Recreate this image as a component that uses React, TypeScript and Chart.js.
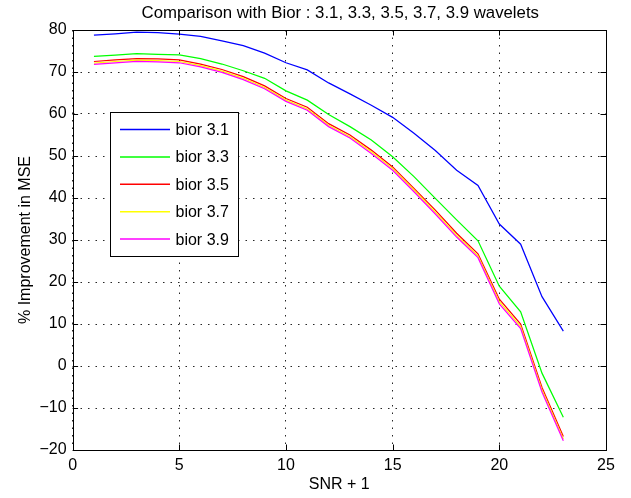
import { useEffect, useRef } from "react";
import { Chart, registerables } from "chart.js";

Chart.register(...registerables);

const chartTitle = "Comparison with Bior : 3.1, 3.3, 3.5, 3.7, 3.9 wavelets";
const xLabel = "SNR + 1";
const yLabel = "% Improvement in MSE";

const snr = [1, 2, 3, 4, 5, 6, 7, 8, 9, 10, 11, 12, 13, 14, 15, 16, 17, 18, 19, 20, 21, 22, 23];

const bior31 = [78.8, 79.1, 79.5, 79.4, 79.0, 78.5, 77.4, 76.3, 74.5, 72.2, 70.5, 67.4, 64.8, 62.1, 59.2, 55.4, 51.3, 46.6, 43.0, 33.8, 29.0, 16.5, 8.3];
const bior33 = [73.7, 74.0, 74.4, 74.2, 74.1, 73.2, 71.9, 70.3, 68.5, 65.5, 63.3, 59.9, 57.0, 53.8, 49.8, 45.1, 39.9, 34.8, 29.8, 19.0, 12.9, -1.7, -12.2];
const bior35 = [72.5, 72.9, 73.2, 73.1, 72.9, 71.9, 70.6, 68.9, 66.7, 63.7, 61.6, 57.7, 55.0, 51.4, 47.4, 42.3, 37.1, 31.6, 26.7, 15.9, 10.0, -5.1, -16.8];
const bior37 = [72.1, 72.5, 72.8, 72.7, 72.5, 71.5, 70.2, 68.5, 66.3, 63.3, 61.2, 57.3, 54.6, 51.0, 47.0, 41.9, 36.6, 31.1, 26.2, 15.3, 9.4, -5.7, -17.4];
const bior39 = [71.8, 72.2, 72.5, 72.4, 72.2, 71.2, 69.9, 68.2, 66.0, 63.0, 60.9, 57.0, 54.3, 50.6, 46.6, 41.5, 36.2, 30.7, 25.8, 14.8, 8.9, -6.2, -17.8];

const seriesLabels = ["bior 3.1", "bior 3.3", "bior 3.5", "bior 3.7", "bior 3.9"];
const seriesColors = ["#0000ff", "#00ff00", "#ff0000", "#ffff00", "#ff00ff"];
const seriesValues = [bior31, bior33, bior35, bior37, bior39];

const xTicks = [0, 5, 10, 15, 20, 25];
const yTicks = [-20, -10, 0, 10, 20, 30, 40, 50, 60, 70, 80];

const FONT = '"Liberation Sans", Arial, Helvetica, sans-serif';

const decorPlugin = {
  id: "decor",
  afterDatasetsDraw(chart: any) {
    const ctx = chart.ctx as CanvasRenderingContext2D;
    const { left, right, top, bottom } = chart.chartArea;
    const xs = chart.scales.x;
    const ys = chart.scales.y;
    ctx.save();
    // frame
    ctx.strokeStyle = "#000";
    ctx.lineWidth = 1;
    ctx.setLineDash([]);
    ctx.strokeRect(Math.round(left) + 0.5, Math.round(top) + 0.5, Math.round(right - left), Math.round(bottom - top));
    // inward ticks
    const tl = 5.5;
    ctx.beginPath();
    xTicks.forEach((v) => {
      const px = Math.round(xs.getPixelForValue(v)) + 0.5;
      ctx.moveTo(px, bottom);
      ctx.lineTo(px, bottom - tl);
      ctx.moveTo(px, top);
      ctx.lineTo(px, top + tl);
    });
    yTicks.forEach((v) => {
      const py = Math.round(ys.getPixelForValue(v)) + 0.5;
      ctx.moveTo(left, py);
      ctx.lineTo(left + tl, py);
      ctx.moveTo(right, py);
      ctx.lineTo(right - tl, py);
    });
    ctx.stroke();

    // legend
    const lx0 = 110.5, ly0 = 112.5, lw = 128, lh = 144;
    ctx.fillStyle = "#fff";
    ctx.fillRect(lx0, ly0, lw, lh);
    ctx.strokeStyle = "#000";
    ctx.lineWidth = 1;
    ctx.strokeRect(lx0, ly0, lw, lh);
    ctx.font = `16px ${FONT}`;
    ctx.textBaseline = "middle";
    ctx.textAlign = "left";
    chart.data.datasets.forEach((ds: any, i: number) => {
      const cy = 129.5 + i * 27.4;
      ctx.strokeStyle = ds.borderColor;
      ctx.lineWidth = 1.5;
      ctx.beginPath();
      ctx.moveTo(120, cy);
      ctx.lineTo(170, cy);
      ctx.stroke();
      ctx.fillStyle = "#000";
      ctx.fillText(ds.label, 175.5, cy + 1);
    });
    ctx.restore();
  },
  afterDraw(chart: any) {
    const ctx = chart.ctx as CanvasRenderingContext2D;
    const { left, right } = chart.chartArea;
    ctx.save();
    ctx.font = `16.8px ${FONT}`;
    ctx.fillStyle = "#000";
    ctx.textAlign = "center";
    ctx.textBaseline = "alphabetic";
    ctx.fillText(chartTitle, (left + right) / 2 + 1, 17.5);
    ctx.restore();
  },
};

export default function App() {
  const ref = useRef<HTMLCanvasElement | null>(null);

  useEffect(() => {
    document.body.style.margin = "0";
    const canvas = ref.current;
    if (!canvas) return;
    const fmt = (v: number) => (v < 0 ? "\u2212" + Math.abs(v) : String(v));
    const chart = new Chart(canvas, {
      type: "line",
      data: {
        datasets: seriesValues.map((vals, i) => ({
          label: seriesLabels[i],
          data: snr.map((x, j) => ({ x, y: vals[j] })),
          borderColor: seriesColors[i],
          backgroundColor: seriesColors[i],
          borderWidth: 1.25,
          pointRadius: 0,
          fill: false,
          tension: 0,
          order: seriesValues.length - i,
        })),
      },
      options: {
        animation: false,
        responsive: false,
        maintainAspectRatio: false,
        events: [],
        layout: { padding: { left: 16, right: 25, top: 30, bottom: 4 } },
        plugins: {
          legend: { display: false },
          title: { display: false },
          tooltip: { enabled: false },
        },
        scales: {
          x: {
            type: "linear",
            min: 0,
            max: 25,
            afterFit: (s: any) => {
              s.height = 44;
            },
            afterBuildTicks: (s: any) => {
              s.ticks = xTicks.map((v) => ({ value: v }));
            },
            ticks: {
              color: "#000",
              font: { family: FONT, size: 16 },
              padding: 6,
              maxRotation: 0,
              callback: (v: any) => fmt(Number(v)),
            },
            grid: { color: "rgba(0,0,0,0.85)", lineWidth: 1, drawTicks: false },
            border: { display: false, dash: [1.5, 6] },
            title: {
              display: true,
              text: xLabel,
              color: "#000",
              font: { family: FONT, size: 16 },
              padding: 0,
            },
          },
          y: {
            type: "linear",
            min: -20,
            max: 80,
            afterFit: (s: any) => {
              s.width = 56.6;
            },
            afterBuildTicks: (s: any) => {
              s.ticks = yTicks.map((v) => ({ value: v }));
            },
            ticks: {
              color: "#000",
              font: { family: FONT, size: 16 },
              padding: 6,
              callback: (v: any) => fmt(Number(v)),
            },
            grid: { color: "rgba(0,0,0,0.85)", lineWidth: 1, drawTicks: false },
            border: { display: false, dash: [1.5, 6] },
            title: {
              display: true,
              text: yLabel,
              color: "#000",
              font: { family: FONT, size: 16 },
              padding: 0,
            },
          },
        },
      },
      plugins: [decorPlugin],
    } as any);
    return () => chart.destroy();
  }, []);

  return (
    <div style={{ width: 631, height: 498, background: "#fff" }}>
      <canvas ref={ref} width={631} height={498} style={{ width: 631, height: 498, display: "block" }} />
    </div>
  );
}
